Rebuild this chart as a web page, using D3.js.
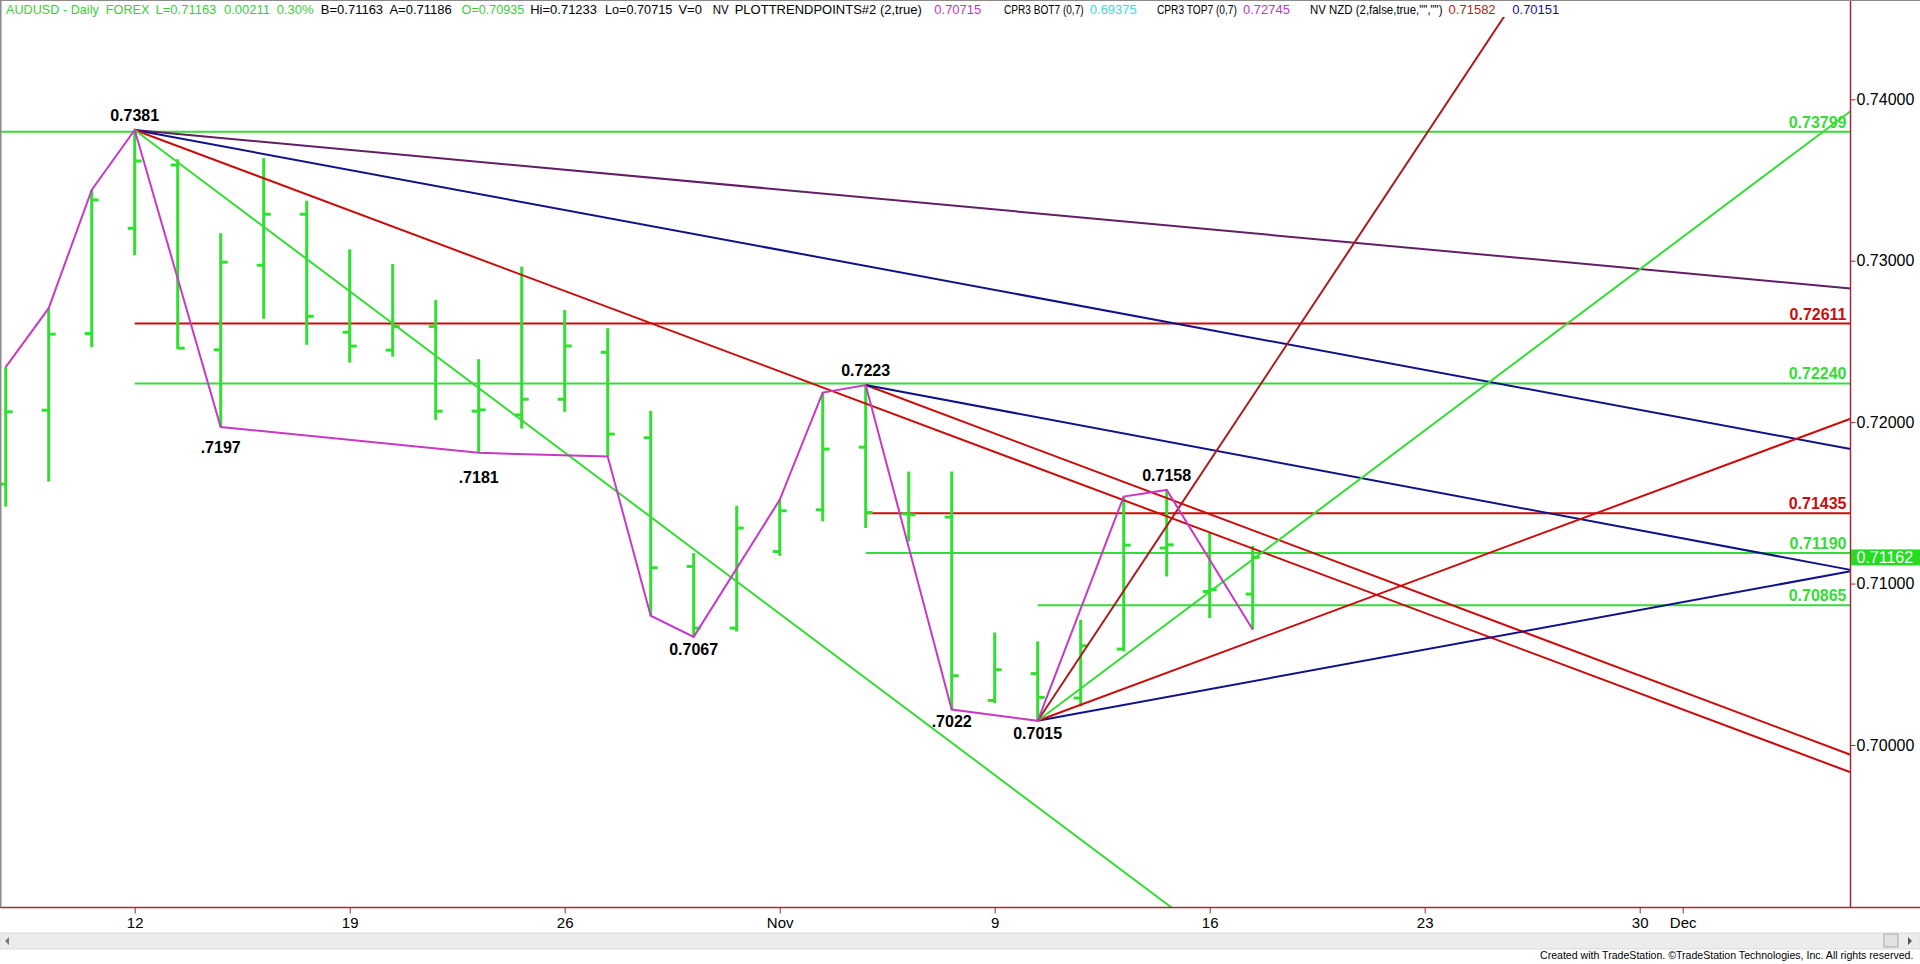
<!DOCTYPE html>
<html>
<head>
<meta charset="utf-8">
<script src="https://cdn.jsdelivr.net/npm/d3@7"></script>
<style>
body { margin: 0; background: #fff; overflow: hidden; }
svg { display: block; font-family: "Liberation Sans", Arial, sans-serif; }
</style>
</head>
<body>
<script>
// AUDUSD diario - barras OHLC, oct/nov 2020

var fechas = ["2020-10-07","2020-10-08","2020-10-09","2020-10-12","2020-10-13","2020-10-14","2020-10-15","2020-10-16",
              "2020-10-19","2020-10-20","2020-10-21","2020-10-22","2020-10-23","2020-10-26","2020-10-27","2020-10-28",
              "2020-10-29","2020-10-30","2020-11-02","2020-11-03","2020-11-04","2020-11-05","2020-11-06","2020-11-09",
              "2020-11-10","2020-11-11","2020-11-12","2020-11-13","2020-11-16","2020-11-17"];
var aperturas = [0.71616,0.72074,0.72549,0.73201,0.73593,0.72448,0.72972,0.73288,0.72557,0.72446,0.72592,0.72068,0.72045,0.72142,0.72433,
                 0.71903,0.71106,0.70724,0.71199,0.71457,0.71845,0.71432,0.71412,0.70276,0.70442,0.70291,0.70594,0.71220,0.70951,0.70935];
var maximos  = [0.72341,0.72706,0.73438,0.73810,0.73628,0.73170,0.73635,0.73372,0.73071,0.72980,0.72757,0.72390,0.72964,0.72695,0.72582,
                0.72070,0.71189,0.71482,0.71519,0.72183,0.72230,0.71694,0.71694,0.70697,0.70642,0.70776,0.71539,0.71580,0.71316,0.71233];
var minimos  = [0.71477,0.71632,0.72464,0.73034,0.72452,0.71970,0.72640,0.72479,0.72369,0.72406,0.72014,0.71810,0.71960,0.72064,0.71787,
                0.70801,0.70670,0.70703,0.71172,0.71385,0.71344,0.71261,0.70220,0.70260,0.70150,0.70239,0.70580,0.71044,0.70786,0.70715];
var cierres  = [0.72064,0.72545,0.73376,0.73618,0.72458,0.72991,0.73288,0.72656,0.72471,0.72592,0.72068,0.72076,0.72142,0.72472,0.71926,
                0.71098,0.70724,0.71344,0.71451,0.71833,0.71440,0.71426,0.70429,0.70466,0.70295,0.70615,0.71238,0.71240,0.70962,0.71163];

// puntos de la linea zigzag (PLOTTRENDPOINTS)
var zigzagFechas = ["2020-10-07","2020-10-08","2020-10-09","2020-10-12","2020-10-14","2020-10-22","2020-10-27","2020-10-28","2020-10-29",
                    "2020-11-02","2020-11-03","2020-11-04","2020-11-06","2020-11-10","2020-11-12","2020-11-13","2020-11-17"];
var zigzagLado   = ["H","H","H","H","L","L","L","L","L","H","H","H","L","L","H","H","L"];

// etiquetas de pivotes
var pivoteFechas = ["2020-10-12","2020-10-14","2020-10-22","2020-10-29","2020-11-04","2020-11-06","2020-11-10","2020-11-13"];
var pivoteTextos = ["0.7381",".7197",".7181","0.7067","0.7223",".7022","0.7015","0.7158"];
var pivoteLado   = ["H","L","L","L","H","L","L","H"];

// niveles horizontales
var nivelesValor = [0.73799,0.72611,0.72240,0.71435,0.71190,0.70865];
var nivelesDesde = [null,"2020-10-12","2020-10-12","2020-11-04","2020-11-04","2020-11-10"];
var nivelesTipo  = ["verde","rojo","verde","rojo","verde","verde"];

// lineas de tendencia: punto inicial y un segundo punto, se extienden hasta el eje
var lineasDesdeFecha = ["2020-10-12","2020-10-12","2020-10-12","2020-10-12","2020-11-04","2020-11-04","2020-11-10","2020-11-10","2020-11-10","2020-11-10"];
var lineasDesdePrecio = [0.73810,0.73810,0.73810,0.73810,0.72230,0.72230,0.70150,0.70150,0.70150,0.70150];
var lineasHastaFecha = ["2020-12-04","2020-12-04","2020-12-04","2020-11-10","2020-12-04","2020-12-04","2020-12-04","2020-12-04","2020-12-04","2020-11-17"];
var lineasHastaPrecio = [0.72850,0.71878,0.69921,0.69615,0.70030,0.71130,0.71032,0.71932,0.73746,0.72161];
var lineasTipo = ["morado","azul","rojo","verde","rojo","azul","azul","rojo","verde","rojooscuro"];

// eje x
var ticksFechas = ["2020-10-12","2020-10-19","2020-10-26","2020-11-02","2020-11-09","2020-11-16","2020-11-23","2020-11-30","2020-12-01"];
var ticksTextos = ["12","19","26","Nov","9","16","23","30","Dec"];
// eje y
var ticksPrecio = [0.70,0.71,0.72,0.73,0.74];
var ultimoPrecio = 0.71162;

var encabezado = ["AUDUSD - Daily  FOREX","L=0.71163","0.00211","0.30%","B=0.71163","A=0.71186","O=0.70935","Hi=0.71233","Lo=0.70715",
                  "V=0","NV","PLOTTRENDPOINTS#2 (2,true)","0.70715","CPR3 BOT7 (0,7)","0.69375","CPR3 TOP7 (0,7)","0.72745",
                  "NV NZD (2,false,true,\"\",\"\")","0.71582","0.70151"];

var colores = { verde: "#36dc36", rojo: "#cc0c0c", azul: "#121288", morado: "#641e64", rojooscuro: "#a81c1c" };
var colorBarra = "#30e030", colorZig = "#c63ac6", colorEje = "#a3283a";

var width = 1920, height = 964;
var ejeX = 1850.5, base = 907.5;

var svg = d3.select("body").append("svg")
    .attr("width", width)
    .attr("height", height);

svg.append("rect").attr("width", width).attr("height", height).attr("fill", "#fff");

// escalas
var dias = d3.timeDay.range(new Date(2020, 9, 7), new Date(2020, 11, 5))
    .filter(function(d) { return d.getDay() != 0 && d.getDay() != 6; });
var fmt = d3.timeFormat("%Y-%m-%d");
var indice = {};
dias.forEach(function(d, i) { indice[fmt(d)] = i; });

var x = d3.scaleLinear().domain([0, dias.length - 1]).range([5.7, 5.7 + 43 * (dias.length - 1)]);
var y = d3.scaleLinear().domain([0.70, 0.74]).range([745, 99.3]);
function xf(f) { return x(indice[f]); }

var barras = fechas.map(function(f, i) {
    return { fecha: f, o: aperturas[i], h: maximos[i], l: minimos[i], c: cierres[i] };
});
var porFecha = {};
barras.forEach(function(b) { porFecha[b.fecha] = b; });

svg.append("clipPath").attr("id", "zona")
   .append("rect").attr("x", 0).attr("y", 17).attr("width", ejeX).attr("height", base - 17);

var g = svg.append("g").attr("clip-path", "url(#zona)");

// niveles
nivelesValor.forEach(function(v, i) {
    var x0 = nivelesDesde[i] ? xf(nivelesDesde[i]) : 0;
    g.append("line")
     .attr("x1", x0).attr("x2", ejeX)
     .attr("y1", y(v)).attr("y2", y(v))
     .attr("stroke", colores[nivelesTipo[i]])
     .attr("stroke-width", 2);
});

// barras OHLC
var nodo = g.selectAll(".barra")
    .data(barras)
    .enter().append("g")
    .attr("class", "barra")
    .attr("transform", function(d) { return "translate(" + xf(d.fecha) + ",0)"; });

nodo.append("line")
    .attr("x1", 0).attr("x2", 0)
    .attr("y1", function(d) { return y(d.h); })
    .attr("y2", function(d) { return y(d.l); })
    .attr("stroke", colorBarra).attr("stroke-width", 3);
nodo.append("line")
    .attr("x1", -7).attr("x2", 0)
    .attr("y1", function(d) { return y(d.o); })
    .attr("y2", function(d) { return y(d.o); })
    .attr("stroke", colorBarra).attr("stroke-width", 3);
nodo.append("line")
    .attr("x1", 0).attr("x2", 7)
    .attr("y1", function(d) { return y(d.c); })
    .attr("y2", function(d) { return y(d.c); })
    .attr("stroke", colorBarra).attr("stroke-width", 3);

// lineas de tendencia
lineasTipo.forEach(function(t, i) {
    var x1 = xf(lineasDesdeFecha[i]), y1 = y(lineasDesdePrecio[i]);
    var x2 = xf(lineasHastaFecha[i]), y2 = y(lineasHastaPrecio[i]);
    var m = (y2 - y1) / (x2 - x1);
    g.append("line")
     .attr("x1", x1).attr("y1", y1)
     .attr("x2", ejeX).attr("y2", y1 + m * (ejeX - x1))
     .attr("stroke", colores[t])
     .attr("stroke-width", 2);
});

// zigzag
var zig = zigzagFechas.map(function(f, i) {
    var b = porFecha[f];
    return [xf(f), y(zigzagLado[i] == "H" ? b.h : b.l)];
});
g.append("path")
 .attr("d", d3.line()(zig))
 .attr("fill", "none")
 .attr("stroke", colorZig)
 .attr("stroke-width", 2);

// etiquetas de niveles
nivelesValor.forEach(function(v, i) {
    svg.append("text")
       .attr("x", ejeX - 4).attr("y", y(v) - 4)
       .attr("text-anchor", "end")
       .style("font-size", "16px").style("font-weight", "bold")
       .attr("fill", colores[nivelesTipo[i]])
       .text(d3.format(".5f")(v));
});

// etiquetas de pivotes
var extraAbajo = { ".7197": 8, ".7181": 12 };
pivoteFechas.forEach(function(f, i) {
    var b = porFecha[f];
    var arriba = pivoteLado[i] == "H";
    var yy = arriba ? y(b.h) - 9 : y(b.l) + 18 + (extraAbajo[pivoteTextos[i]] || 0);
    svg.append("text")
       .attr("x", xf(f)).attr("y", yy)
       .attr("text-anchor", "middle")
       .style("font-size", "16px").style("font-weight", "bold")
       .attr("fill", "#000")
       .text(pivoteTextos[i]);
});

// ejes
var ejeY = svg.append("g")
    .attr("transform", "translate(" + ejeX + ",0)")
    .call(d3.axisRight(y).tickValues(ticksPrecio).tickSize(5).tickPadding(1).tickFormat(d3.format(".5f")));
ejeY.select(".domain").remove();
ejeY.selectAll("line").attr("stroke", colorEje);
ejeY.selectAll("text").style("font-size", "16px").style("font-family", "Liberation Sans, Arial").attr("fill", "#000");

var ejeInf = svg.append("g")
    .attr("transform", "translate(0," + base + ")")
    .call(d3.axisBottom(x)
        .tickValues(ticksFechas.map(function(f) { return indice[f]; }))
        .tickFormat(function(d, i) { return ticksTextos[i]; })
        .tickSize(6).tickPadding(4));
ejeInf.select(".domain").remove();
ejeInf.selectAll("line").attr("stroke", colorEje);
ejeInf.selectAll("text").style("font-size", "15px").style("font-family", "Liberation Sans Narrow, Arial Narrow, Liberation Sans").attr("fill", "#000");

svg.append("line").attr("x1", ejeX).attr("x2", ejeX).attr("y1", 0).attr("y2", base)
   .attr("stroke", colorEje).attr("stroke-width", 1.5);
svg.append("line").attr("x1", 0).attr("x2", width).attr("y1", base).attr("y2", base)
   .attr("stroke", colorEje).attr("stroke-width", 1.5);

// marco gris
svg.append("line").attr("x1", 0).attr("x2", width).attr("y1", 0.5).attr("y2", 0.5).attr("stroke", "#8a8a8a");
svg.append("line").attr("x1", 0.75).attr("x2", 0.75).attr("y1", 0).attr("y2", base).attr("stroke", "#8a8a8a").attr("stroke-width", 1.5);

// ultimo precio
svg.append("rect")
   .attr("x", ejeX + 0.5).attr("y", y(ultimoPrecio) - 8)
   .attr("width", width - ejeX).attr("height", 16)
   .attr("fill", "#22dd22");
svg.append("text")
   .attr("x", ejeX + 6).attr("y", y(ultimoPrecio)).attr("dy", "0.36em")
   .style("font-size", "16px").attr("fill", "#fff")
   .text(d3.format(".5f")(ultimoPrecio));

// encabezado: cada trozo en su posicion, se estrecha (scaleX) si no cabe
var encX = [6,155.5,224,276.7,320.8,389.4,461.6,530.2,605,678.4,712.7,734.7,934.3,1004,1089.8,1157,1243,1310,1448.6,1512.3,1571];
var encColor = ["#3ccc3c","#3ccc3c","#3ccc3c","#3ccc3c","#000","#000","#3ccc3c","#000","#000","#000","#000","#000",
                "#c436c4","#000","#3cd8d8","#000","#c436c4","#000","#b22222","#12127a"];
encabezado.forEach(function(t, i) {
    var txt = svg.append("text")
       .attr("transform", "translate(" + encX[i] + ",14)")
       .style("font-size", "13px").style("white-space", "pre")
       .attr("fill", encColor[i])
       .text(t);
    var libre = encX[i + 1] - encX[i] - (i == encabezado.length - 1 ? 0 : 6);
    var ancho = txt.node().getComputedTextLength();
    if (ancho > libre) {
        txt.attr("transform", "translate(" + encX[i] + ",14) scale(" + (libre / ancho) + ",1)");
    }
});

// barra de desplazamiento
svg.append("rect").attr("x", 0).attr("y", 933).attr("width", width).attr("height", 16)
   .attr("fill", "#ececec").attr("stroke", "#dcdcdc");
svg.append("path").attr("d", "M9,937 L5,941 L9,945 Z").attr("fill", "#777");
svg.append("rect").attr("x", 1884).attr("y", 934).attr("width", 14).attr("height", 13)
   .attr("fill", "#e2e2e2").attr("stroke", "#aaa");
svg.append("path").attr("d", "M1908,937 L1912,941 L1908,945 Z").attr("fill", "#555");

var pie = svg.append("text")
   .attr("transform", "translate(1540,959)")
   .style("font-size", "11px").attr("fill", "#000")
   .text("Created with TradeStation. \u00A9TradeStation Technologies, Inc. All rights reserved.");
var anchoPie = pie.node().getComputedTextLength();
pie.attr("transform", "translate(1540,959) scale(" + (374 / anchoPie) + ",1)");
</script>
</body>
</html>
